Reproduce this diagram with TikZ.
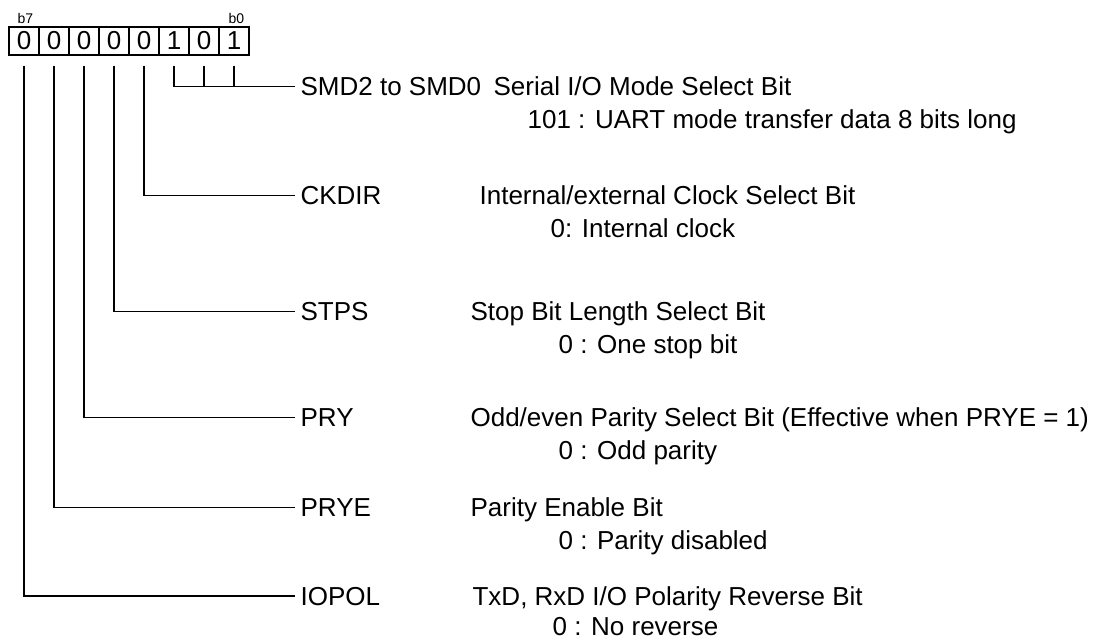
\documentclass[tikz,border=0pt]{standalone}
\usepackage{fontspec}
\setmainfont{Liberation Sans}
\newcommand\bigtxt{\fontsize{26}{30}\selectfont}
\newcommand\smalltxt{\fontsize{14}{16}\selectfont}
\begin{document}
\begin{tikzpicture}[x=1pt,y=-1pt,
  line width=1.2pt,
  cell/.style={draw, minimum width=30pt, minimum height=28pt, inner sep=0pt, font=\bigtxt},
  bitlbl/.style={inner sep=0pt, anchor=base west, font=\smalltxt},
  fieldname/.style={inner xsep=5pt, inner ysep=0pt, anchor=base west, font=\bigtxt},
  desc/.style={inner sep=0pt, anchor=base west, font=\bigtxt},
  wire/.style={line width=1.2pt}]
\useasboundingbox (0,0) rectangle (1097,642);
% register cells (b7 ... b0)
\node[cell] (b7) at (24,41) {0};
\node[cell] (b6) at (54,41) {0};
\node[cell] (b5) at (84,41) {0};
\node[cell] (b4) at (114,41) {0};
\node[cell] (b3) at (144,41) {0};
\node[cell] (b2) at (174,41) {1};
\node[cell] (b1) at (204,41) {0};
\node[cell] (b0) at (234,41) {1};
\node[bitlbl] (lb7) at (17,24) {b7};
\node[bitlbl] (lb0) at (228,24) {b0};
% field names
\node[fieldname] (smd)   at (295,95.3)  {SMD2 to SMD0};
\node[fieldname] (ckdir) at (295,204.3) {CKDIR};
\node[fieldname] (stps)  at (295,320.3) {STPS};
\node[fieldname] (pry)   at (295,426.3) {PRY};
\node[fieldname] (prye)  at (295,516.3) {PRYE};
\node[fieldname] (iopol) at (295,605) {IOPOL};
% descriptions
\node[desc] (d1a) at (493,95.3)  {Serial I/O Mode Select Bit};
\node[desc] (d1b) at (527,128.3) {101 : UART mode transfer data 8 bits long};
\node[desc] (d2a) at (479,204.3) {Internal/external Clock Select Bit};
\node[desc] (d2b) at (550,237.3) {0: Internal clock};
\node[desc] (d3a) at (470,320.3) {Stop Bit Length Select Bit};
\node[desc] (d3b) at (558,353.3) {0 : One stop bit};
\node[desc] (d4a) at (470,426.3) {Odd/even Parity Select Bit (Effective when PRYE = 1)};
\node[desc] (d4b) at (558,459.3) {0 : Odd parity};
\node[desc] (d5a) at (470,516.3) {Parity Enable Bit};
\node[desc] (d5b) at (558,549.3) {0 : Parity disabled};
\node[desc] (d6a) at (472,605) {TxD, RxD I/O Polarity Reverse Bit};
\node[desc] (d6b) at (552,635) {0 : No reverse};
% connectors
\draw[wire] ([yshift=-10pt]b2.south) |- (smd.west);
\draw[wire] ([yshift=-10pt]b1.south) -- (b1.south |- smd.west);
\draw[wire] ([yshift=-10pt]b0.south) -- (b0.south |- smd.west);
\draw[wire] ([yshift=-10pt]b3.south) |- (ckdir.west);
\draw[wire] ([yshift=-10pt]b4.south) |- (stps.west);
\draw[wire] ([yshift=-10pt]b5.south) |- (pry.west);
\draw[wire] ([yshift=-10pt]b6.south) |- (prye.west);
\draw[wire] ([yshift=-10pt]b7.south) |- (iopol.west);
\end{tikzpicture}
\end{document}
